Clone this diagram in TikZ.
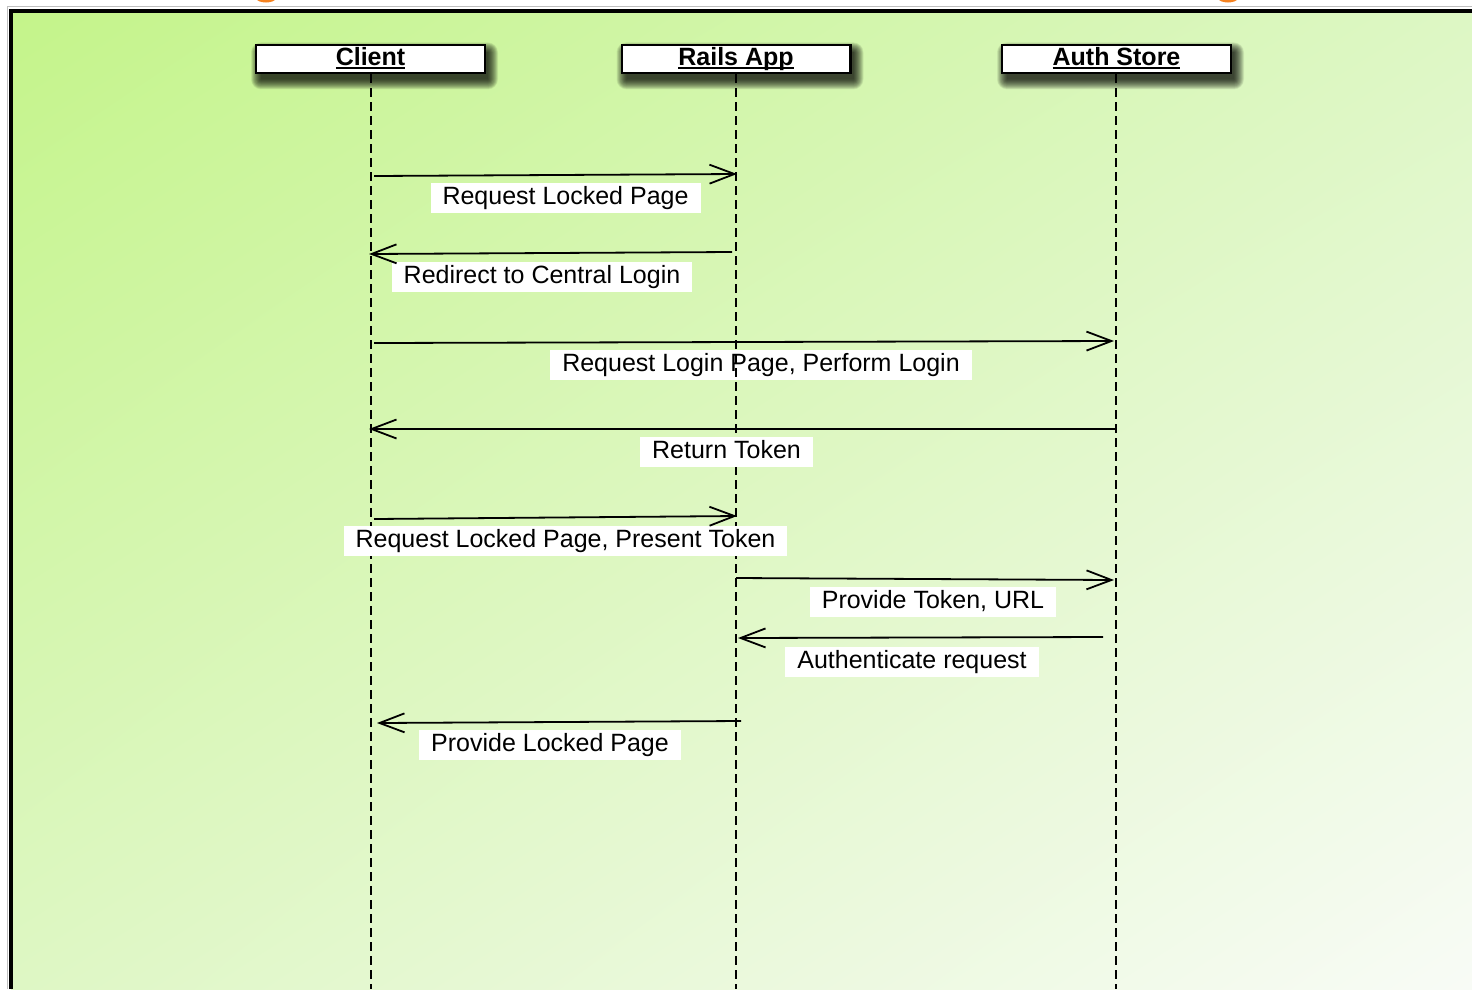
\documentclass[tikz,border=0pt]{standalone}
\usepackage{fontspec}
\setmainfont{Liberation Sans}
\usetikzlibrary{arrows.meta,shadings}
\definecolor{bgA}{RGB}{196,244,138}
\definecolor{bgB}{RGB}{221,247,196}
\definecolor{bgC}{RGB}{222,247,196}
\definecolor{bgD}{RGB}{248,251,246}
\definecolor{orng}{RGB}{245,130,32}
\newcommand{\hdrline}[1]{\setbox0\hbox{#1}\rlap{\rule[-3.4pt]{\wd0}{2pt}}\box0}
\begin{document}
\begin{tikzpicture}[x=1pt,y=-1pt,
  header/.style={draw=black, line width=2.4pt, fill=white, minimum width=228.6pt,
    text height=19pt, text depth=5pt, inner ysep=2.2pt, inner xsep=0pt,
    font=\bfseries\fontsize{25}{30}\selectfont},
  shadowlayer/.style={fill=black, opacity=0.055},
  lbl/.style={fill=white, inner xsep=12pt, inner ysep=3pt, text height=19pt, text depth=5pt,
    font=\fontsize{25}{30}\selectfont},
  lifeline/.style={draw=black, line width=1.8pt, dash pattern=on 9pt off 5pt},
  msg/.style={draw=black, line width=1.8pt, -{Straight Barb[length=25pt,width=19pt,line width=1.8pt]}}]
\useasboundingbox (0,0) rectangle (1472,989);
\fill[white] (0,0) rectangle (1472,989);
\fill[orng] (266,-2) ellipse (10 and 4.5);
\fill[orng] (1228,-2) ellipse (10 and 4.5);
\shade[upper left=bgA, upper right=bgB, lower left=bgC, lower right=bgD] (11,10) rectangle (1472,989);
\draw[black!25, line width=0.8pt] (7,989) -- (7,6.5) -- (1472,6.5);
\draw[black, line width=4pt] (11,989) -- (11,10.5) -- (1472,10.5);

% header positions and soft shadows
\coordinate (hc) at (370.5,58.9);
\coordinate (hr) at (736,58.9);
\coordinate (ha) at (1116.5,58.9);
\foreach \h in {hc,hr,ha} {
  \foreach \k in {-2,-1.5,...,8} {
    \fill[shadowlayer, rounded corners=\k pt+2pt]
      ([shift={({-115.5+4-\k},{15.5+7+\k})}]\h) rectangle ([shift={({115.5+4+\k},{-15.5+7-\k})}]\h);
  }
}

% label under the lifeline
\node[lbl] (l3) at (761,364.5) {Request Login Page, Perform Login};

% headers
\node[header] (client) at (hc) {\hdrline{Client}};
\node[header] (rails) at (hr) {\hdrline{Rails App}};
\node[header] (auth) at (ha) {\hdrline{Auth Store}};

\coordinate (cEnd) at (371,989);
\coordinate (rEnd) at (736,989);
\coordinate (aEnd) at (1116,989);
\draw[lifeline] (client.south -| cEnd) -- (cEnd);
\draw[lifeline] (rails.south -| rEnd) -- (rEnd);
\draw[lifeline] (auth.south -| aEnd) -- (aEnd);

% labels over the lifelines
\node[lbl] (l1) at (565.5,197.5) {Request Locked Page};
\node[lbl] (l2) at (542,276.5) {Redirect to Central Login};
\node[lbl] (l4) at (726.5,451.5) {Return Token};
\node[lbl] (l5) at (565.5,540.5) {Request Locked Page, Present Token};
\node[lbl] (l6) at (933,601.5) {Provide Token, URL};
\node[lbl] (l7) at (912,661.5) {Authenticate request};
\node[lbl] (l8) at (550,744.5) {Provide Locked Page};

% messages
\coordinate (m1s) at (374,176);  \coordinate (m1e) at (737,174);
\coordinate (m2s) at (732,252);  \coordinate (m2e) at (369,254);
\coordinate (m3s) at (374,343);  \coordinate (m3e) at (1114,341);
\coordinate (m4s) at (1116,429); \coordinate (m4e) at (369,429);
\coordinate (m5s) at (374,519);  \coordinate (m5e) at (737,516);
\coordinate (m6s) at (736,578);  \coordinate (m6e) at (1114,580);
\coordinate (m7s) at (1103,637); \coordinate (m7e) at (738,638);
\coordinate (m8s) at (741,721);  \coordinate (m8e) at (377,723);
\foreach \i in {1,...,8} {\draw[msg] (m\i s) -- (m\i e);}
\end{tikzpicture}
\end{document}
